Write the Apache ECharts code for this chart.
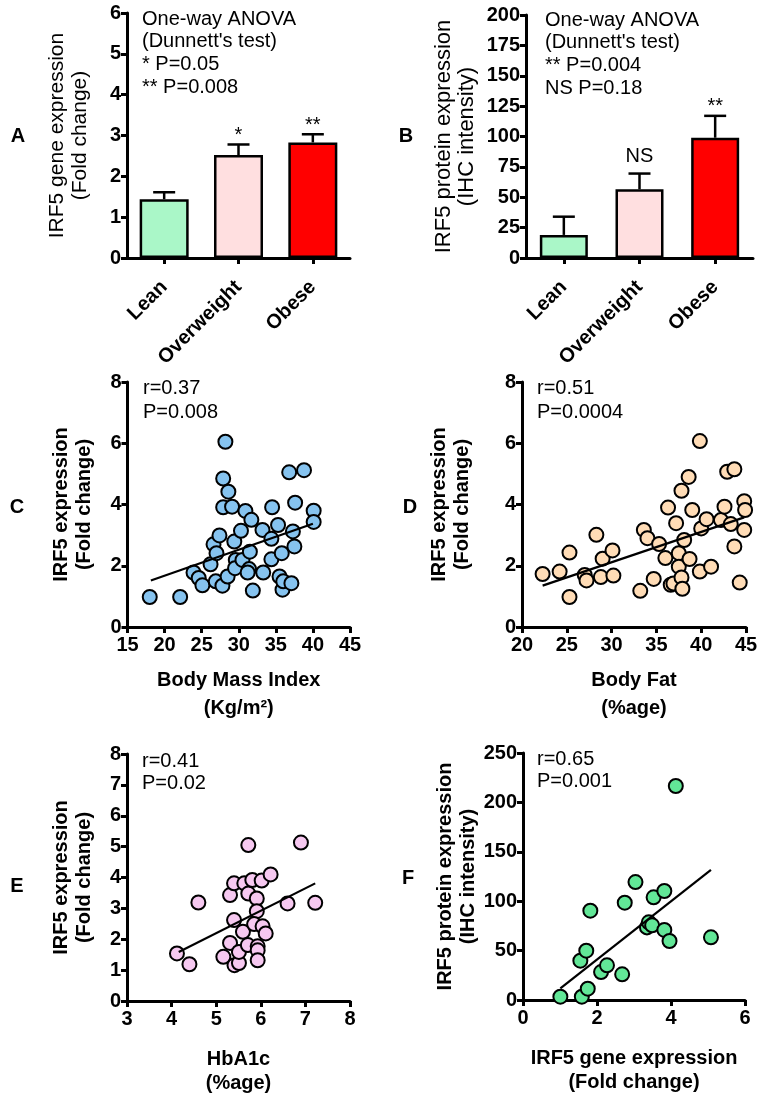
<!DOCTYPE html>
<html>
<head>
<meta charset="utf-8">
<script src="https://cdn.jsdelivr.net/npm/echarts@6/dist/echarts.min.js"></script>
<style>
html,body{margin:0;padding:0;background:#fff;}
#chart{width:766px;height:1099px;}
</style>
</head>
<body>
<div id="chart"></div>
<script>
// ---------------- DATA ----------------
const groups = ['Lean', 'Overweight', 'Obese'];
const barColors = ['#aaf7c8', '#ffdfe0', '#ff0000'];

// Panel A: IRF5 gene expression (fold change)
const geneMean = [1.44, 2.52, 2.83];
const geneErr = [0.17, 0.26, 0.20];
const geneSig = ['', '*', '**'];

// Panel B: IRF5 protein expression (IHC intensity)
const protMean = [19, 56.5, 99];
const protErr = [15, 13, 18];
const protSig = ['', 'NS', '**'];

// Panel C: BMI vs IRF5 expression
const bmiPoints = [
  [18.0,0.98],[22.1,0.98],[23.9,1.78],[24.6,1.60],[25.1,1.36],[26.2,2.05],[26.6,2.70],
  [27.0,2.41],[27.4,2.99],[26.9,1.49],[27.8,1.35],[28.5,1.65],[28.2,6.05],[27.9,4.85],
  [28.6,4.42],[27.9,3.91],[29.1,3.93],[29.4,2.79],[29.6,2.19],[29.5,1.92],[30.3,3.14],
  [30.5,2.19],[30.9,3.79],[31.7,3.50],[31.5,2.46],[31.4,1.89],[31.2,1.78],[31.9,1.19],
  [33.2,3.17],[33.3,1.78],[34.5,3.91],[34.4,2.88],[34.4,2.21],[35.3,3.33],[35.8,2.41],
  [35.5,1.65],[35.9,1.22],[36.0,1.49],[36.8,5.05],[37.1,1.43],[37.3,3.12],[37.5,2.63],
  [37.6,4.06],[38.8,5.12],[40.1,3.80],[40.1,3.43]
];
const bmiFit = [[18.15,1.52],[40.0,3.37]];

// Panel D: Body fat vs IRF5 expression
const fatPoints = [
  [22.3,1.73],[24.2,1.81],[25.3,2.43],[25.3,0.98],[27.0,1.70],[27.2,1.52],[28.3,3.01],
  [29.0,2.23],[28.8,1.63],[30.1,2.50],[30.2,1.68],[33.2,1.18],[33.6,3.17],[34.0,2.90],
  [34.7,1.57],[35.3,2.71],[36.0,2.25],[36.3,3.90],[36.6,1.38],[36.9,1.42],[37.2,3.39],
  [37.5,2.41],[37.5,1.97],[37.8,1.62],[37.9,1.25],[37.8,4.45],[38.1,2.84],[38.6,4.90],
  [38.7,2.22],[39.0,3.82],[39.85,6.07],[39.85,1.81],[40.0,3.22],[40.6,3.52],[41.1,1.97],
  [42.2,3.49],[42.6,3.93],[42.9,5.07],[43.3,3.36],[43.7,5.15],[43.7,2.63],[44.3,1.45],
  [44.8,4.11],[44.9,3.82],[44.8,3.17]
];
const fatFit = [[22.3,1.35],[44.8,3.58]];

// Panel E: HbA1c vs IRF5 expression
const hbPoints = [
  [4.12,1.54],[4.40,1.19],[4.60,3.19],[5.16,1.43],[5.31,1.88],[5.31,3.43],[5.40,3.81],
  [5.40,2.62],[5.41,1.16],[5.51,1.23],[5.51,1.59],[5.60,2.24],[5.63,3.81],[5.72,5.05],
  [5.72,3.48],[5.71,1.81],[5.81,3.92],[5.91,3.32],[5.91,2.91],[5.85,2.49],[5.93,1.77],
  [5.93,1.64],[5.93,1.32],[6.02,3.90],[6.04,2.42],[6.11,2.19],[6.22,4.10],[6.60,3.16],
  [6.90,5.13],[7.22,3.18]
];
const hbFit = [[4.16,1.59],[7.22,3.81]];

// Panel F: gene vs protein expression
const geneProtPoints = [
  [1.01,3.4],[1.59,3.4],[1.75,11.5],[1.55,39.8],[1.71,49.9],[1.82,90.4],[2.11,28.3],
  [2.27,35.1],[2.68,26.0],[2.75,98.5],[3.04,119.4],[3.35,73.5],[3.40,78.6],[3.49,75.6],
  [3.53,103.9],[3.82,110.3],[3.82,70.9],[3.96,59.7],[4.13,216.6],[5.08,63.4]
];
const geneProtFit = [[1.01,11.8],[5.08,131.6]];

// Annotations
const annoA = ['One-way ANOVA', "(Dunnett's test)", '* P=0.05', '** P=0.008'];
const annoB = ['One-way ANOVA', "(Dunnett's test)", '** P=0.004', 'NS P=0.18'];
const annoC = ['r=0.37', 'P=0.008'];
const annoD = ['r=0.51', 'P=0.0004'];
const annoE = ['r=0.41', 'P=0.02'];
const annoF = ['r=0.65', 'P=0.001'];
const panelLetters = ['A', 'B', 'C', 'D', 'E', 'F'];

// ---------------- STYLE / LAYOUT ----------------
const FONT = 'Arial';
const NARROW = 'Arial';
const scatterColors = ['#86c3ef', '#ffdcb6', '#f6c8f0', '#62e797'];

const grids = [
  {left:127, top:13, width:223, height:245},
  {left:526, top:15, width:227, height:243},
  {left:127.5, top:382, width:222.5, height:245},
  {left:522, top:382, width:224, height:245},
  {left:127, top:754, width:223, height:247},
  {left:523, top:753, width:222, height:247}
];

function axisBase(extra) {
  return Object.assign({
    axisLine: {show:true, onZero:false, lineStyle:{color:'#000', width:3}},
    axisTick: {show:true, length:6, lineStyle:{color:'#000', width:3}},
    splitLine: {show:false},
    axisLabel: {color:'#000', fontFamily:FONT, fontWeight:'bold', fontSize:20, margin:6},
    nameTextStyle: {color:'#000', fontFamily:FONT, fontSize:20, lineHeight:23}
  }, extra);
}

function yAxisCfg(grid, min, max, interval, name, gap, bold, size) {
  const a = axisBase({type:'value', gridIndex:grid, min, max, interval, name,
    nameLocation:'middle', nameRotate:90, nameGap:gap});
  a.nameTextStyle = {color:'#000', fontFamily:FONT, fontSize:size || 20, lineHeight:23, fontWeight: bold ? 'bold' : 'normal'};
  return a;
}
function xValueCfg(grid, min, max, interval, name, gap, narrow) {
  const a = axisBase({type:'value', gridIndex:grid, min, max, interval, name,
    nameLocation:'middle', nameGap:gap});
  a.axisLabel = {color:'#000', fontFamily: narrow ? NARROW : FONT, fontWeight:'bold', fontSize:20, margin:8};
  a.nameTextStyle = {color:'#000', fontFamily: narrow ? NARROW : FONT, fontWeight:'bold', fontSize:20, lineHeight: narrow ? 24 : 28};
  return a;
}
function xCatCfg(grid) {
  const a = axisBase({type:'category', gridIndex:grid, data:groups});
  a.axisTick = {show:true, alignWithLabel:true, length:6, lineStyle:{color:'#000', width:3}};
  a.axisLabel = {color:'#000', fontFamily:FONT, fontWeight:'bold', fontSize:20, rotate:45, margin:26, interval:0};
  return a;
}

function errRender(sigs) {
  return function (params, api) {
    const i = api.value(0), m = api.value(1), e = api.value(2);
    const base = api.coord([i, m]);
    const top = api.coord([i, m + e]);
    const hw = 11;
    const children = [
      {type:'line', shape:{x1:base[0], y1:base[1], x2:top[0], y2:top[1]}, style:{stroke:'#000', lineWidth:2.5}},
      {type:'line', shape:{x1:top[0]-hw, y1:top[1], x2:top[0]+hw, y2:top[1]}, style:{stroke:'#000', lineWidth:2.5}}
    ];
    const s = sigs[params.dataIndex];
    if (s) {
      const off = s === 'NS' ? 17 : 9;
      children.push({type:'text', style:{text:s, x:top[0], y:top[1]-off, align:'center', verticalAlign:'middle',
        fontFamily:FONT, fontSize:20, fill:'#000'}});
    }
    return {type:'group', children};
  };
}

function barSeries(grid, means) {
  return {type:'bar', xAxisIndex:grid, yAxisIndex:grid, barWidth: grid === 0 ? 49 : 48,
    data: means.map((v, i) => ({value:v, itemStyle:{color:barColors[i]}})),
    itemStyle:{borderColor:'#000', borderWidth:2.5}, z:3};
}
function errSeries(grid, means, errs, sigs) {
  return {type:'custom', xAxisIndex:grid, yAxisIndex:grid, renderItem: errRender(sigs),
    data: means.map((v, i) => [i, v, errs[i]]), z:2};
}
function scatterSeries(grid, pts, color) {
  return {type:'scatter', xAxisIndex:grid, yAxisIndex:grid, data:pts, symbolSize:14,
    itemStyle:{color, borderColor:'#000', borderWidth:2, opacity:1}, z:4};
}
function fitSeries(grid, pts) {
  return {type:'line', xAxisIndex:grid, yAxisIndex:grid, data:pts, symbol:'none',
    lineStyle:{color:'#000', width:2.2}, z:5};
}

function textLines(lines, x, y0, lh) {
  return lines.map((t, i) => ({type:'text', x, y: y0 + i*lh,
    style:{text:t, fontFamily:FONT, fontSize:20, fill:'#000', align:'left', verticalAlign:'middle'}}));
}
const letterPos = [[18,136],[406,136],[17,507],[410,507],[17,886],[408,878]];
const letterGraphics = panelLetters.map((t, i) => ({type:'text', x:letterPos[i][0], y:letterPos[i][1],
  style:{text:t, fontFamily:FONT, fontWeight:'bold', fontSize:20, fill:'#000', align:'center', verticalAlign:'middle'}}));

const option = {
  animation:false,
  backgroundColor:'#fff',
  grid: grids.map(g => Object.assign({containLabel:false}, g)),
  xAxis: [
    xCatCfg(0),
    xCatCfg(1),
    xValueCfg(2, 15, 45, 5, 'Body Mass Index\n(Kg/m²)', 39, false),
    xValueCfg(3, 20, 45, 5, 'Body Fat\n(%age)', 39, false),
    xValueCfg(4, 3, 8, 1, 'HbA1c\n(%age)', 46, true),
    xValueCfg(5, 0, 6, 2, 'IRF5 gene expression\n(Fold change)', 46, true)
  ],
  yAxis: [
    yAxisCfg(0, 0, 6, 1, 'IRF5 gene expression\n(Fold change)', 35, false, 21),
    yAxisCfg(1, 0, 200, 25, 'IRF5 protein expression\n(IHC intensity)', 48, false, 22),
    yAxisCfg(2, 0, 8, 2, 'IRF5 expression\n(Fold change)', 32, true),
    yAxisCfg(3, 0, 8, 2, 'IRF5 expression\n(Fold change)', 48, true),
    yAxisCfg(4, 0, 8, 1, 'IRF5 expression\n(Fold change)', 31, true),
    yAxisCfg(5, 0, 250, 50, 'IRF5 protein expression\n(IHC intensity)', 40, true)
  ],
  series: [
    barSeries(0, geneMean), errSeries(0, geneMean, geneErr, geneSig),
    barSeries(1, protMean), errSeries(1, protMean, protErr, protSig),
    scatterSeries(2, bmiPoints, scatterColors[0]), fitSeries(2, bmiFit),
    scatterSeries(3, fatPoints, scatterColors[1]), fitSeries(3, fatFit),
    scatterSeries(4, hbPoints, scatterColors[2]), fitSeries(4, hbFit),
    scatterSeries(5, geneProtPoints, scatterColors[3]), fitSeries(5, geneProtFit)
  ],
  graphic: [].concat(
    textLines(annoA, 142, 19, 22.7),
    textLines(annoB, 545, 20, 22.7),
    textLines(annoC, 143, 388, 24.5),
    textLines(annoD, 537, 388, 24.5),
    textLines(annoE, 142, 761, 22.5),
    textLines(annoF, 537, 759, 22.5),
    letterGraphics
  )
};

const chart = echarts.init(document.getElementById('chart'), null, {renderer:'canvas'});
chart.setOption(option);
</script>
</body>
</html>
